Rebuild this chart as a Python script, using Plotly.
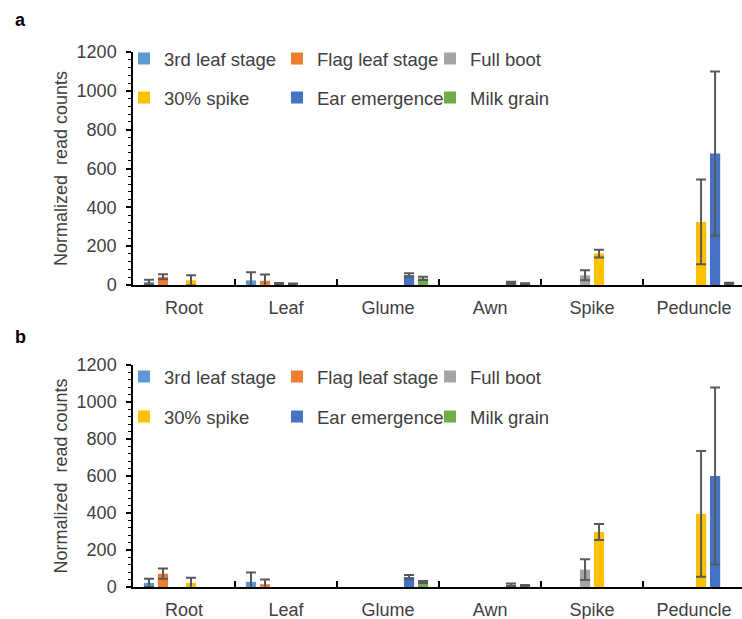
import plotly.graph_objects as go

W, H = 742, 619
categories = ["Root", "Leaf", "Glume", "Awn", "Spike", "Peduncle"]
series_names = ["3rd leaf stage", "Flag leaf stage", "Full boot", "30% spike", "Ear emergence", "Milk grain"]
series_colors = ["#5B9BD5", "#ED7D31", "#A5A5A5", "#FFC000", "#4472C4", "#70AD47"]

# Panel a values and errors (per stage, across tissues)
a_leaf3 = [15, 24, None, None, None, None]
a_leaf3_err = [12, 42, None, None, None, None]
a_flag = [42, 22, None, None, None, None]
a_flag_err = [13, 32, None, None, None, None]
a_boot = [None, 6, None, None, 50, None]
a_boot_err = [None, 4, None, None, 26, None]
a_spike30 = [24, 5, None, None, 162, 325]
a_spike30_err = [26, 3, None, None, 20, 218]
a_ear = [None, None, 51, 12, None, 677]
a_ear_err = [None, None, 9, 5, None, 423]
a_milk = [None, None, 34, 6, None, 8]
a_milk_err = [None, None, 8, 3, None, 4]

# Panel b values and errors
b_leaf3 = [22, 28, None, None, None, None]
b_leaf3_err = [22, 50, None, None, None, None]
b_flag = [72, 15, None, None, None, None]
b_flag_err = [28, 25, None, None, None, None]
b_boot = [None, None, None, None, 94, None]
b_boot_err = [None, None, None, None, 56, None]
b_spike30 = [22, None, None, None, 297, 395]
b_spike30_err = [28, None, None, None, 43, 340]
b_ear = [None, None, 54, 12, None, 600]
b_ear_err = [None, None, 11, 7, None, 478]
b_milk = [None, None, 27, 7, None, None]
b_milk_err = [None, None, 6, 4, None, None]

y_ticks = [0, 200, 400, 600, 800, 1000, 1200]

panel_a = [(a_leaf3, a_leaf3_err), (a_flag, a_flag_err), (a_boot, a_boot_err),
           (a_spike30, a_spike30_err), (a_ear, a_ear_err), (a_milk, a_milk_err)]
panel_b = [(b_leaf3, b_leaf3_err), (b_flag, b_flag_err), (b_boot, b_boot_err),
           (b_spike30, b_spike30_err), (b_ear, b_ear_err), (b_milk, b_milk_err)]

L_MARGIN = 133
PW = W - L_MARGIN


def px_x(p):
    return (p - L_MARGIN) / PW


def px_y(p):
    return 1 - p / H


TEXT = "#404040"
FONT = "Liberation Sans, Arial, sans-serif"

fig = go.Figure()
for pi, (panel, xa, ya) in enumerate([(panel_a, "x", "y"), (panel_b, "x2", "y2")]):
    for si, (vals, errs) in enumerate(panel):
        leg = ["legend", "legend2", "legend3", "legend4"][pi * 2 + (si // 3)]
        fig.add_trace(go.Bar(
            x=categories, y=vals, name=series_names[si],
            marker=dict(color=series_colors[si], line=dict(width=0)),
            error_y=dict(type="data", array=errs, visible=True, color="#595959",
                         thickness=2, width=5),
            xaxis=xa, yaxis=ya, legend=leg, showlegend=True,
        ))

xaxis_common = dict(
    type="category", range=[-0.5, 5.47], showline=True, linecolor="black", linewidth=1.5,
    ticks="inside", tickson="boundaries", ticklen=6, tickwidth=1.5, tickcolor="black",
    tickfont=dict(size=18, color=TEXT, family=FONT), ticklabelstandoff=6,
    showgrid=False, zeroline=False, fixedrange=True, automargin=False,
)
yaxis_common = dict(
    range=[0, 1200], tickvals=y_ticks, showline=True, linecolor="black", linewidth=1.5,
    ticks="outside", ticklen=5, tickwidth=1.5, tickcolor="black",
    minor=dict(dtick=40, ticks="outside", ticklen=3, tickwidth=1, tickcolor="black", showgrid=False),
    tickfont=dict(size=18, color=TEXT, family=FONT), ticklabelstandoff=6,
    showgrid=False, zeroline=False, automargin=False, fixedrange=True,
    title=dict(text="Normalized  read counts", font=dict(size=18, color=TEXT, family=FONT), standoff=4),
)

legend_common = dict(orientation="h", xanchor="left", yanchor="middle", entrywidth=108,
                     xref="container", yref="container",
                     bgcolor="rgba(0,0,0,0)", font=dict(size=18.5, color=TEXT, family=FONT),
                     itemclick=False, itemdoubleclick=False)

fig.update_layout(
    width=W, height=H, margin=dict(l=L_MARGIN, r=0, t=0, b=0, autoexpand=False),
    paper_bgcolor="white", plot_bgcolor="white",
    barmode="group", bargap=0.176, bargroupgap=0.27,
    font=dict(family=FONT, color=TEXT),
    xaxis=dict(xaxis_common, anchor="y"),
    yaxis=dict(yaxis_common, anchor="x", domain=[px_y(285), px_y(52)]),
    xaxis2=dict(xaxis_common, anchor="y2"),
    yaxis2=dict(yaxis_common, anchor="x2", domain=[px_y(587), px_y(365)]),
    legend=dict(legend_common, x=124 / W, y=px_y(59)),
    legend2=dict(legend_common, x=124 / W, y=px_y(98)),
    legend3=dict(legend_common, x=124 / W, y=px_y(377)),
    legend4=dict(legend_common, x=124 / W, y=px_y(417)),
    annotations=[
        dict(text="<b>a</b>", x=px_x(13), y=px_y(20), xref="paper", yref="paper",
             xanchor="left", yanchor="middle", showarrow=False, font=dict(size=18, color="black", family=FONT)),
        dict(text="<b>b</b>", x=px_x(13), y=px_y(337), xref="paper", yref="paper",
             xanchor="left", yanchor="middle", showarrow=False, font=dict(size=18, color="black", family=FONT)),
    ],
)

fig.write_html("out.html")
